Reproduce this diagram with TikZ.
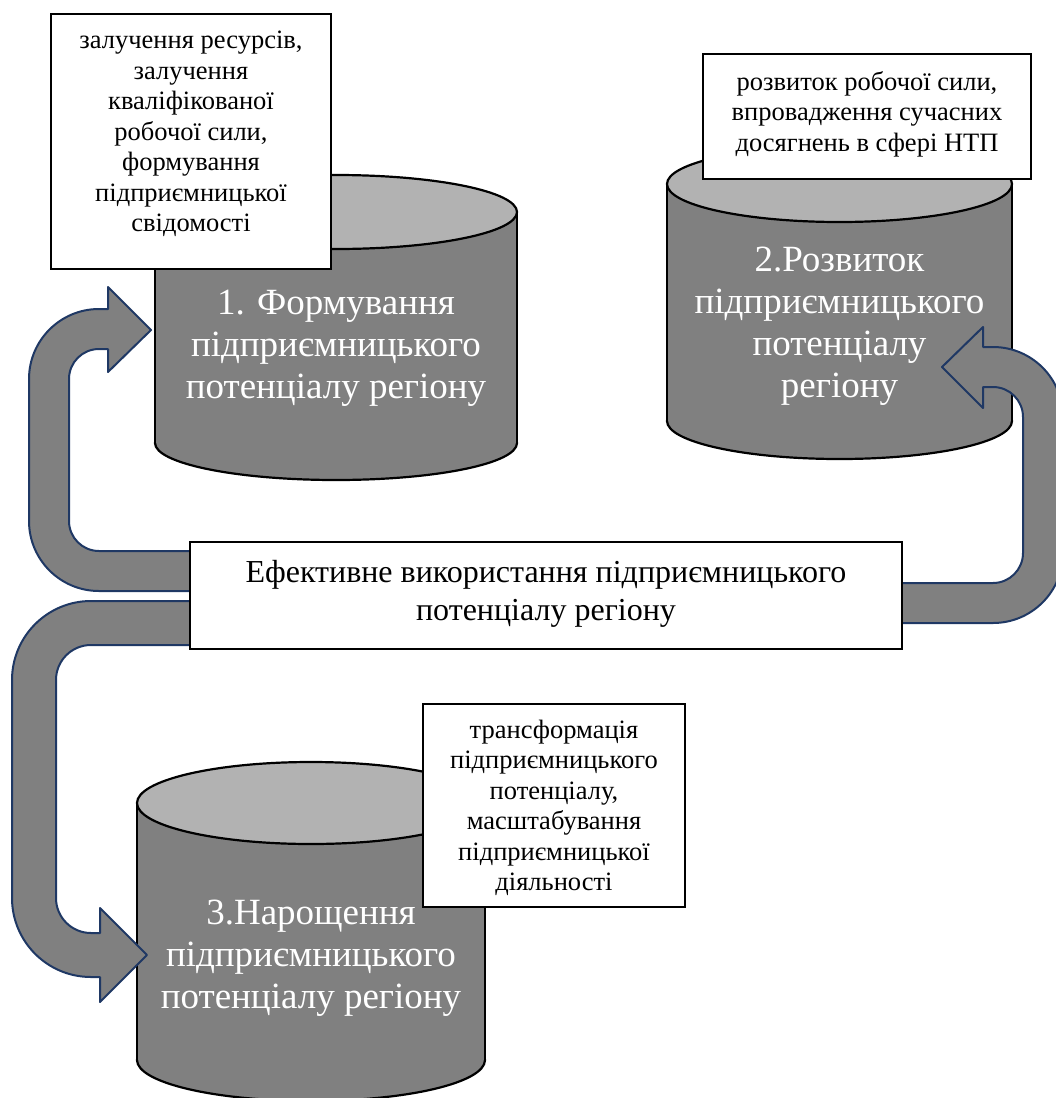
\documentclass[tikz,border=0pt]{standalone}
\usepackage{fontspec}
\setmainfont{Liberation Serif}
\definecolor{cylbody}{RGB}{128,128,128}
\definecolor{cyltop}{RGB}{178,178,178}
\definecolor{arrowfill}{RGB}{128,128,128}
\definecolor{arrowline}{RGB}{31,56,100}
\tikzset{
  cylline/.style={draw=black, line width=2.2pt},
  blockarrow/.style={fill=arrowfill, draw=arrowline, line width=2pt, line join=round},
  infobox/.style={draw=black, fill=white, line width=1.3pt, inner sep=0pt},
  boxtext/.style={align=center, font=\fontsize{26.5}{30.5}\selectfont, text=black, inner sep=0pt},
  cyltext/.style={align=center, font=\fontsize{37}{42}\selectfont, text=white, inner sep=0pt},
  midtext/.style={align=center, font=\fontsize{32}{38}\selectfont, text=black, inner sep=0pt},
}
\newcommand{\cylinderdraw}[5]{% cx, rx, ytop, ybot, ry
  \path[fill=cylbody, cylline] (#1,#4) ellipse [x radius=#2, y radius=#5];
  \fill[cylbody] ({#1-#2},#3) rectangle ({#1+#2},#4);
  \draw[cylline] ({#1-#2},#3) -- ({#1-#2},#4) ({#1+#2},#3) -- ({#1+#2},#4);
  \path[fill=cyltop, cylline] (#1,#3) ellipse [x radius=#2, y radius=#5];
}
\begin{document}
\begin{tikzpicture}[x=1pt,y=-1pt]
\useasboundingbox (0,0) rectangle (1056,1098);
\clip (0,0) rectangle (1056,1098);

% cylinders
\cylinderdraw{336}{181}{212}{443}{37}
\cylinderdraw{839.5}{172.5}{184}{421}{38}
\cylinderdraw{311}{174}{803}{1060}{41}

\node[cyltext] (c1) at (336,348) {1. Формування\\підприємницького\\потенціалу регіону};
\node[cyltext] (c2) at (839.5,326) {2.Розвиток\\підприємницького\\потенціалу\\регіону};
\node[cyltext] (c3) at (311,958) {3.Нарощення\\підприємницького\\потенціалу регіону};

% block arrows
\path[blockarrow] (192,591) -- (99,591) .. controls (60.34,591) and (29,559.66) .. (29,521)
  -- (29,379) .. controls (29,340.34) and (60.34,309) .. (99,309) -- (108,309) -- (108,287)
  -- (151,330) -- (108,372) -- (108,349) -- (99,349) .. controls (82.43,349) and (69,362.43) .. (69,379)
  -- (69,521) .. controls (69,537.57) and (82.43,551) .. (99,551) -- (192,551) -- cycle;

\path[blockarrow] (192,601) -- (91,601) .. controls (47.37,601) and (12,636.37) .. (12,680)
  -- (12,898) .. controls (12,941.63) and (47.37,977) .. (91,977) -- (100,977) -- (100,1002)
  -- (147,955) -- (100,908) -- (100,933) -- (91,933) .. controls (71.67,933) and (56,917.33) .. (56,898)
  -- (56,680) .. controls (56,660.67) and (71.67,645) .. (91,645) -- (192,645) -- cycle;

\path[blockarrow] (900,623) -- (993,623) .. controls (1031.66,623) and (1063,591.66) .. (1063,553)
  -- (1063,417) .. controls (1063,378.34) and (1031.66,347) .. (993,347) -- (983,347) -- (983,327)
  -- (942,367) -- (983,408) -- (983,387) -- (993,387) .. controls (1009.57,387) and (1023,400.43) .. (1023,417)
  -- (1023,553) .. controls (1023,569.57) and (1009.57,583) .. (993,583) -- (900,583) -- cycle;

% boxes
\node[infobox, minimum width=280pt, minimum height=255pt] (b1) at (191,141.5) {};
\node[infobox, minimum width=328pt, minimum height=125pt] (b2) at (867,116.5) {};
\node[infobox, minimum width=262pt, minimum height=203pt] (b3) at (554,805.5) {};
\node[infobox, minimum width=712pt, minimum height=107pt] (bm) at (546,595.5) {};

\node[boxtext] (t1) at (191,134) {залучення ресурсів,\\залучення\\кваліфікованої\\робочої сили,\\формування\\підприємницької\\свідомості};
\node[boxtext] (t2) at (867,114) {розвиток робочої сили,\\впровадження сучасних\\досягнень в сфері НТП};
\node[boxtext] (t3) at (554,808) {трансформація\\підприємницького\\потенціалу,\\масштабування\\підприємницької\\діяльності};
\node[midtext] (tm) at (546,594) {Ефективне використання підприємницького\\потенціалу регіону};
\end{tikzpicture}
\end{document}
